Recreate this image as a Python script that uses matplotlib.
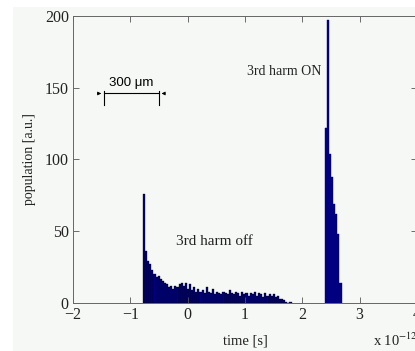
import matplotlib
matplotlib.use("Agg")
import matplotlib.pyplot as plt
from matplotlib.patches import Rectangle
import numpy as np

# Data (time in units of 1e-12 s)
bin_width = 0.0365
off_start = -0.78
off_counts = [76, 36, 29, 27, 23, 20, 18, 19, 17, 15, 14, 13, 11, 12, 10, 12, 11, 13,
              14, 12, 14, 10, 13, 9, 11, 8, 10, 8, 9, 7, 11, 8, 7, 10, 6, 8, 7, 6, 8,
              7, 6, 9, 7, 6, 8, 7, 5, 8, 6, 7, 5, 7, 6, 8, 5, 7, 6, 4, 7, 5, 6, 5, 6,
              4, 5, 3, 3, 2, 1, 0, 1]
on_start = 2.392
on_counts = [122, 197, 104, 88, 69, 62, 48, 14]

x_ticks = [-2, -1, 0, 1, 2, 3, 4]
y_ticks = [0, 50, 100, 150, 200]

plt.rcParams['mathtext.fontset'] = 'stix'
serif = 'Liberation Serif'

fig = plt.figure(figsize=(4.15, 3.51), dpi=100, facecolor='white')
fig.patches.append(Rectangle((13/415, 0), 1, (351-7)/351, transform=fig.transFigure,
                             facecolor='#f5f8f4', edgecolor='none', zorder=-10))
ax = fig.add_axes([73/415, (351-303)/351, (417-73)/415, (303-16)/351])
ax.set_facecolor('none')

off_x = off_start + bin_width * np.arange(len(off_counts))
on_x = on_start + bin_width * np.arange(len(on_counts))
ax.bar(off_x, off_counts, width=bin_width, align='edge', color='#000080',
       edgecolor='black', linewidth=0.25)
ax.bar(on_x, on_counts, width=bin_width, align='edge', color='#000080',
       edgecolor='#000080', linewidth=0.3)

ax.set_xlim(-2, 4)
ax.set_ylim(0, 200)
ax.set_xticks(x_ticks)
ax.set_yticks(y_ticks)
ax.set_xticklabels([str(v).replace('-', '\u2212') for v in x_ticks], fontfamily=serif, fontsize=11.5)
ax.set_yticklabels([str(v) for v in y_ticks], fontfamily=serif, fontsize=11.5)
ax.tick_params(direction='in', length=4, width=0.6, color='#555555', top=True, right=True,
               pad=3, labelcolor='#222222')
for s in ax.spines.values():
    s.set_color('#666666')
    s.set_linewidth(0.7)

ax.set_xlabel('time [s]', fontfamily=serif, fontsize=10.5, labelpad=8, color='#222222')
ax.set_ylabel('population [a.u.]', fontfamily=serif, fontsize=10, labelpad=6, color='#222222')

ax.text(1.69, 161, '3rd harm ON', fontfamily=serif, fontsize=10, ha='center', va='center',
        color='#222222')
ax.text(0.46, 42.7, '3rd harm off', fontfamily=serif, fontsize=11, ha='center', va='center',
        color='#222222')

fig.text(373/415, 1 - 340/351, r'x 10$^{-12}$', fontfamily=serif, fontsize=10.5,
         ha='left', va='center', color='#222222')

# scale bar annotation
ax.plot([-1.458, -0.505], [146, 146], color='black', lw=0.8)
ax.plot([-1.458, -1.458], [138, 148], color='black', lw=0.8)
ax.plot([-0.505, -0.505], [138, 148], color='black', lw=0.8)
ax.annotate('', xy=(-1.458, 146), xytext=(-1.62, 146),
            arrowprops=dict(arrowstyle='-|>', lw=0.6, color='black', mutation_scale=5))
ax.annotate('', xy=(-0.505, 146), xytext=(-0.348, 146),
            arrowprops=dict(arrowstyle='-|>', lw=0.6, color='black', mutation_scale=5))
ax.text(-0.984, 153, '300 \u03bcm', fontfamily='Liberation Sans', fontsize=9.5,
        ha='center', va='center')

fig.savefig('out.png', dpi=100, facecolor=fig.get_facecolor())
